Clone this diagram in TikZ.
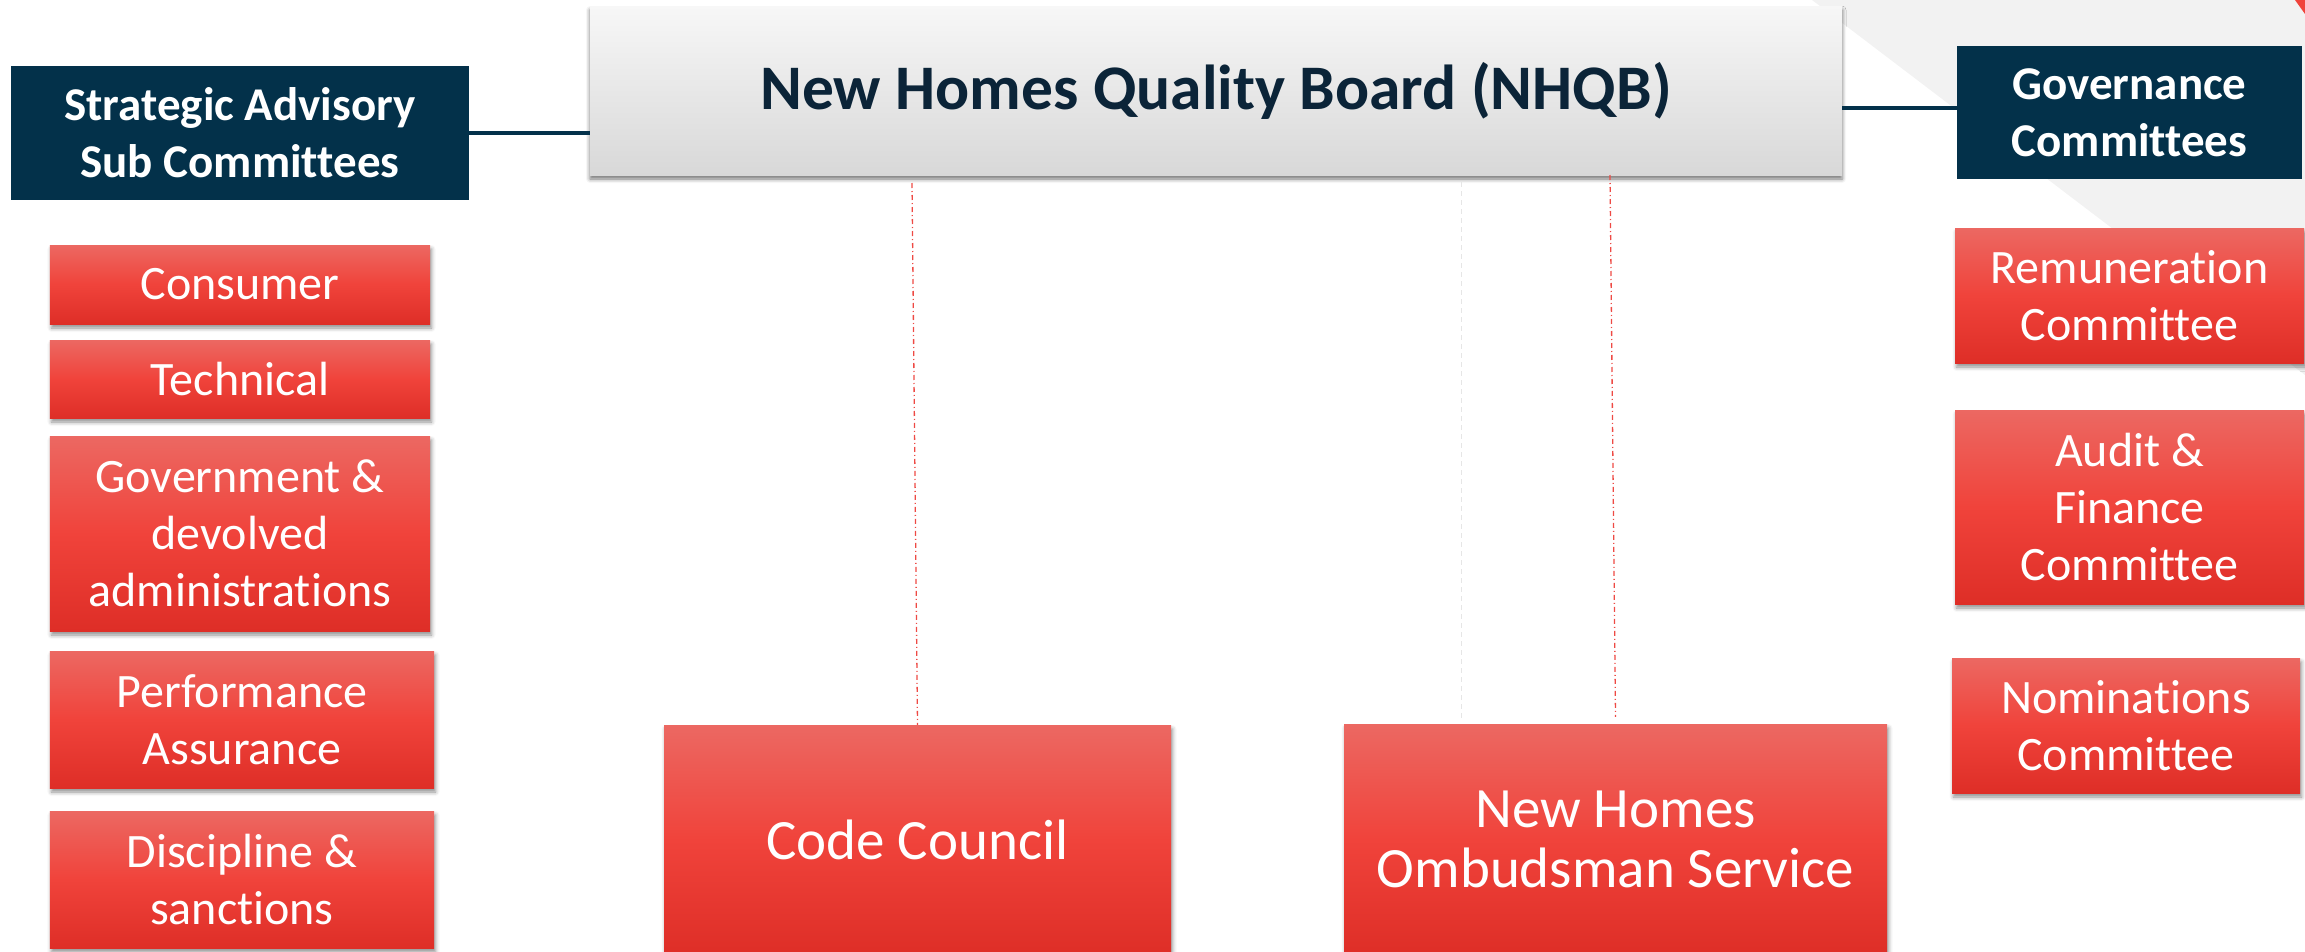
\documentclass[tikz,border=0pt]{standalone}
\usepackage{fontspec}
\setmainfont{Carlito}[Ligatures=NoCommon]
\usetikzlibrary{shadows.blur}

\definecolor{navy}{HTML}{03314A}
\definecolor{titleink}{HTML}{0B2438}
\definecolor{redtop}{HTML}{EC6862}
\definecolor{redmid}{HTML}{F0433B}
\definecolor{redbot}{HTML}{DE2E27}
\definecolor{boardtop}{HTML}{F7F7F7}
\definecolor{boardbot}{HTML}{D8D8D8}
\definecolor{bggrey}{HTML}{F2F2F2}
\definecolor{linkred}{HTML}{EE4A44}
\definecolor{faintgrey}{HTML}{E6E6E6}

\tikzset{
  headbox/.style={rectangle, inner sep=0pt, fill=navy, text=white, align=center,
    font=\bfseries\fontsize{47bp}{57bp}\selectfont},
  redbox/.style={rectangle, inner sep=0pt, text=white, align=center,
    top color=redtop, bottom color=redbot, middle color=redmid,
    font=\fontsize{48bp}{57bp}\selectfont,
    blur shadow={shadow xshift=1.5bp, shadow yshift=-4bp, shadow blur radius=4bp, shadow opacity=45}},
  bigred/.style={redbox, font=\fontsize{57bp}{60bp}\selectfont},
  boardbox/.style={rectangle, inner sep=0pt, top color=boardtop, bottom color=boardbot,
    text=titleink, font=\bfseries\fontsize{63.5bp}{70bp}\selectfont,
    blur shadow={shadow xshift=0bp, shadow yshift=-4bp, shadow blur radius=4bp, shadow opacity=55}},
  navyline/.style={draw=navy, line width=3.5bp},
  redlink/.style={draw=linkred, line width=1.3bp, dash pattern=on 5bp off 3bp on 1bp off 3bp},
  greylink/.style={draw=faintgrey, line width=1bp, dash pattern=on 5bp off 4bp}
}

\begin{document}
\begin{tikzpicture}[x=1bp, y=-1bp]
\useasboundingbox (0,0) rectangle (2305,951);

% background wedge in the upper right corner
\fill[bggrey] (1812,0) -- (2305,0) -- (2305,375) -- cycle;
\fill[redmid] (2295,0) -- (2305,0) -- (2305,14) -- cycle;

% central board
\node[boardbox, minimum width=1252bp, minimum height=169bp] (board) at (1216,90.5)
  {New Homes Quality Board (NHQB)};

% column headings
\node[headbox, minimum width=458bp, minimum height=134bp] (hdrL) at (240,133)
  {Strategic Advisory\\Sub Committees};
\node[headbox, minimum width=345bp, minimum height=133bp] (hdrR) at (2129.5,112.5)
  {Governance\\Committees};

% strategic advisory sub committees
\node[redbox, minimum width=380bp, minimum height=79bp] (consumer) at (240,284.5) {Consumer};
\node[redbox, minimum width=380bp, minimum height=78bp] (technical) at (240,379) {Technical};
\node[redbox, minimum width=380bp, minimum height=195bp] (gov) at (240,533.5)
  {Government \&\\devolved\\administrations};
\node[redbox, minimum width=384bp, minimum height=137bp] (perf) at (242,719.5)
  {Performance\\Assurance};
\node[redbox, minimum width=384bp, minimum height=137bp] (disc) at (242,879.5)
  {Discipline \&\\sanctions};

% governance committees
\node[redbox, minimum width=349bp, minimum height=135bp] (remun) at (2129.5,295.5)
  {Remuneration\\Committee};
\node[redbox, minimum width=349bp, minimum height=194bp] (audit) at (2129.5,507)
  {Audit \&\\Finance\\Committee};
\node[redbox, minimum width=348bp, minimum height=135bp] (nomin) at (2126,725.5)
  {Nominations\\Committee};

% bodies below the board
\node[bigred, minimum width=507bp, minimum height=230bp] (code) at (917.5,840) {Code Council};
\node[bigred, minimum width=543bp, minimum height=231bp] (ombud) at (1615.5,839.5)
  {New Homes\\Ombudsman Service};

% connectors
\draw[navyline] (hdrL.east) -- (hdrL.east -| board.west);
\draw[navyline] ([yshift=4.5bp]hdrR.west -| board.east) -- ([yshift=4.5bp]hdrR.west);

\coordinate (cA) at (912,183);
\coordinate (cB) at (1610,175);
\draw[redlink] (cA) -- (code.north);
\draw[redlink] (cB) -- ([yshift=7bp]ombud.north);

\coordinate (gA) at (1461,182);
\coordinate (gB) at (1461,718);
\draw[greylink] (gA) -- (gB);
\end{tikzpicture}
\end{document}
